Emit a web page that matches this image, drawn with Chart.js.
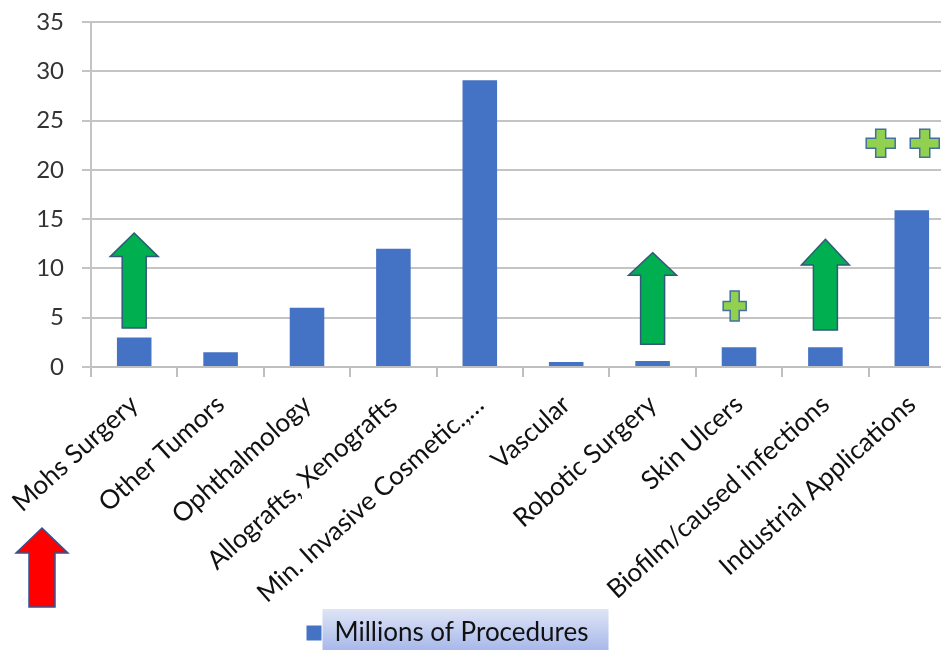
<!DOCTYPE html>
<html>

<head>
    <title>Procedures</title>
    <meta charset="UTF-8">
    <script src="https://cdn.jsdelivr.net/npm/chart.js@4.4.1/dist/chart.umd.min.js"></script>
    <style>
        body { margin: 0; overflow: hidden; background: #fff; }
    </style>
</head>

<body>

<div style="width: 960px; height: 650px;">
    <canvas id="proceduresChart" width="960" height="650"></canvas>
</div>

<script>
    // chart data
    var categories = ['Mohs Surgery', 'Other Tumors', 'Ophthalmology', 'Allografts, Xenografts',
        'Min. Invasive Cosmetic.,\u2026', 'Vascular', 'Robotic Surgery', 'Skin Ulcers',
        'Biofilm/caused infections', 'Industrial Applications'];
    var procedures = [3, 1.5, 6, 12, 29.1, 0.5, 0.6, 2, 2, 15.9];
    var seriesName = 'Millions of Procedures';

    // growth arrows (category index, bottom, head start, tip - in axis units)
    var arrowCats = [0, 6, 8];
    var arrowBase = [3.95, 2.3, 3.75];
    var arrowNeck = [11.2, 9.3, 10.35];
    var arrowTip = [13.6, 11.6, 12.95];

    // plus markers (category position, value)
    var plusCats = [6.95, 8.64, 9.15];
    var plusVals = [6.2, 22.7, 22.7];

    var FONT = 'Lato';

    function upArrow(ctx, cx, yTip, yNeck, yBase, shaft, head, fill, stroke) {
        ctx.beginPath();
        ctx.moveTo(cx, yTip);
        ctx.lineTo(cx + head, yNeck);
        ctx.lineTo(cx + shaft, yNeck);
        ctx.lineTo(cx + shaft, yBase);
        ctx.lineTo(cx - shaft, yBase);
        ctx.lineTo(cx - shaft, yNeck);
        ctx.lineTo(cx - head, yNeck);
        ctx.closePath();
        ctx.fillStyle = fill;
        ctx.fill();
        ctx.lineWidth = 1.5;
        ctx.strokeStyle = stroke;
        ctx.stroke();
    }

    function plusSign(ctx, cx, cy, w, h, t) {
        ctx.beginPath();
        ctx.moveTo(cx - t / 2, cy - h / 2);
        ctx.lineTo(cx + t / 2, cy - h / 2);
        ctx.lineTo(cx + t / 2, cy - t / 2);
        ctx.lineTo(cx + w / 2, cy - t / 2);
        ctx.lineTo(cx + w / 2, cy + t / 2);
        ctx.lineTo(cx + t / 2, cy + t / 2);
        ctx.lineTo(cx + t / 2, cy + h / 2);
        ctx.lineTo(cx - t / 2, cy + h / 2);
        ctx.lineTo(cx - t / 2, cy + t / 2);
        ctx.lineTo(cx - w / 2, cy + t / 2);
        ctx.lineTo(cx - w / 2, cy - t / 2);
        ctx.lineTo(cx - t / 2, cy - t / 2);
        ctx.closePath();
        ctx.fillStyle = '#92d050';
        ctx.fill();
        ctx.lineWidth = 1.5;
        ctx.strokeStyle = '#41719c';
        ctx.stroke();
    }

    var decorations = {
        id: 'decorations',
        afterUpdate: function (chart) {
            // pull the legend a little to the left
            var lg = chart.legend;
            var dx = -30;
            lg.left += dx;
            lg.right += dx;
            lg.legendHitBoxes.forEach(function (h) { h.left += dx; });
        },
        beforeDraw: function (chart) {
            var ctx = chart.ctx;
            var lg = chart.legend;
            var hb = lg.legendHitBoxes[0];
            if (!hb) return;
            var textX = hb.left + 15 + 26 / 2;
            var x0 = textX - 12, x1 = hb.left + hb.width + 20;
            var y0 = 609, y1 = 650;
            var g = ctx.createLinearGradient(0, y0, 0, y1);
            g.addColorStop(0, '#dfe5f6');
            g.addColorStop(1, '#a8b8ea');
            ctx.save();
            ctx.fillStyle = g;
            ctx.fillRect(x0, y0, x1 - x0, y1 - y0);
            ctx.restore();
        },
        afterDatasetsDraw: function (chart) {
            var ctx = chart.ctx;
            var x = chart.scales.x, y = chart.scales.y;
            var area = chart.chartArea;
            ctx.save();
            for (var i = 0; i < arrowCats.length; i++) {
                upArrow(ctx, x.getPixelForValue(arrowCats[i]),
                    y.getPixelForValue(arrowTip[i]), y.getPixelForValue(arrowNeck[i]),
                    y.getPixelForValue(arrowBase[i]), 12, 24, '#00b050', '#31597a');
            }
            for (var j = 0; j < plusCats.length; j++) {
                var big = j > 0;
                plusSign(ctx, x.getPixelForValue(plusCats[j]), y.getPixelForValue(plusVals[j]),
                    big ? 29 : 23, big ? 28 : 30, big ? 10 : 9);
            }
            // red arrow under the first label
            upArrow(ctx, area.left - 49, area.bottom + 161, area.bottom + 186, area.bottom + 240,
                13, 26, '#ff0000', '#2f5597');
            ctx.restore();
        }
    };

    new Chart(document.getElementById('proceduresChart'), {
        type: 'bar',
        data: {
            labels: categories,
            datasets: [{
                label: seriesName,
                data: procedures,
                backgroundColor: '#4472c4',
                borderWidth: 0,
                categoryPercentage: 1,
                barPercentage: 0.4
            }]
        },
        options: {
            responsive: false,
            animation: false,
            layout: { padding: { top: 22, right: 5, left: 0, bottom: -6 } },
            scales: {
                x: {
                    offset: true,
                    grid: { display: true, drawOnChartArea: false, offset: true, tickLength: 10, color: '#bfbfbf', lineWidth: 2 },
                    border: { display: true, color: '#bfbfbf', width: 2 },
                    ticks: {
                        autoSkip: false, maxRotation: 42, minRotation: 42, padding: 12,
                        font: { family: FONT, size: 26 }, color: '#111'
                    },
                    afterFit: function (s) { s.height = 237; }
                },
                y: {
                    min: 0,
                    max: 35,
                    ticks: { stepSize: 5, padding: 18, font: { family: FONT, size: 24 }, color: '#333' },
                    grid: { color: '#c4c4c4', lineWidth: 2, tickLength: 9 },
                    border: { display: true, color: '#c4c4c4', width: 2 },
                    afterFit: function (s) {
                        s.width = 91;
                        s.paddingTop = 14;
                        s.paddingBottom = 14;
                    }
                }
            },
            plugins: {
                legend: {
                    position: 'bottom',
                    labels: {
                        boxWidth: 15, boxHeight: 15, padding: 16,
                        font: { family: FONT, size: 26 }, color: '#111'
                    }
                },
                tooltip: { enabled: false }
            }
        },
        plugins: [decorations]
    });
</script>

</body>

</html>
